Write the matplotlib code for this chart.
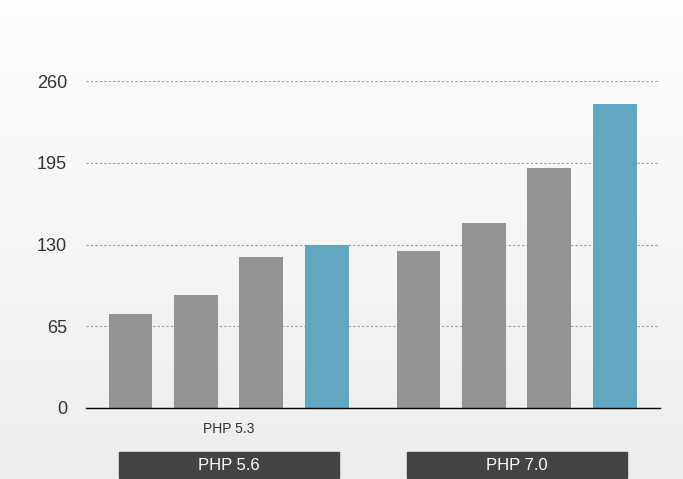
import numpy as np
import matplotlib.pyplot as plt
import matplotlib.transforms as mtransforms
from matplotlib.patches import Rectangle

plt.rcParams['font.family'] = ['Liberation Sans', 'DejaVu Sans']

groups = ['PHP 5.6', 'PHP 7.0']
vals_56 = [75, 90, 120, 130]
vals_70 = [125, 147, 191, 242]
yticks = [0, 65, 130, 195, 260]
sub_label = 'PHP 5.3'

gray = '#939393'
blue = '#62a7c1'

fig = plt.figure(figsize=(6.83, 4.79), dpi=100)

# background gradient
bg = fig.add_axes([0, 0, 1, 1], zorder=-10)
grad = np.linspace(1.0, 0.0, 256).reshape(-1, 1)
top = np.array([0.995, 0.995, 0.995])
bot = np.array([0.93, 0.93, 0.93])
img = bot + (top - bot) * grad[..., None]
bg.imshow(img, aspect='auto', extent=[0, 1, 0, 1])
bg.axis('off')

ax = fig.add_axes([86/683, 1-408/479, 574/683, 327/479])
ax.patch.set_alpha(0)

gap = 4.4
w = 0.67
trans = mtransforms.blended_transform_factory(ax.transData, fig.transFigure)
for g, vals in enumerate([vals_56, vals_70]):
    x = np.arange(len(vals)) + g*gap
    cols = [gray]*(len(vals)-1) + [blue]
    ax.bar(x, vals, width=w, color=cols, zorder=3)
    # group box below axis
    cx = x.mean()
    bw = 3.36
    ax.add_patch(Rectangle((cx-bw/2, 0.002), bw, 26/479, transform=trans,
                           color='#444444', clip_on=False))
    ax.text(cx, 0.002+13/479, groups[g], transform=trans, ha='center', va='center',
            color='white', fontsize=12)

ax.set_xlim(-0.68, 3 + gap + 0.69)
ax.set_ylim(0, 260)
ax.set_yticks(yticks)
ax.tick_params(axis='y', length=0, pad=13.5, labelsize=13, labelcolor='#333333')
ax.set_xticks([1.5], [sub_label])
ax.tick_params(axis='x', length=0, pad=10, labelsize=10, labelcolor='#333333')
ax.grid(axis='y', color='#999999', linestyle=(0, (2, 2)), linewidth=0.8, zorder=0)
for s in ['top', 'right', 'left']:
    ax.spines[s].set_visible(False)
ax.spines['bottom'].set_color('black')
ax.spines['bottom'].set_linewidth(1)
ax.spines['bottom'].set_zorder(4)

fig.savefig('out.png', dpi=100)
